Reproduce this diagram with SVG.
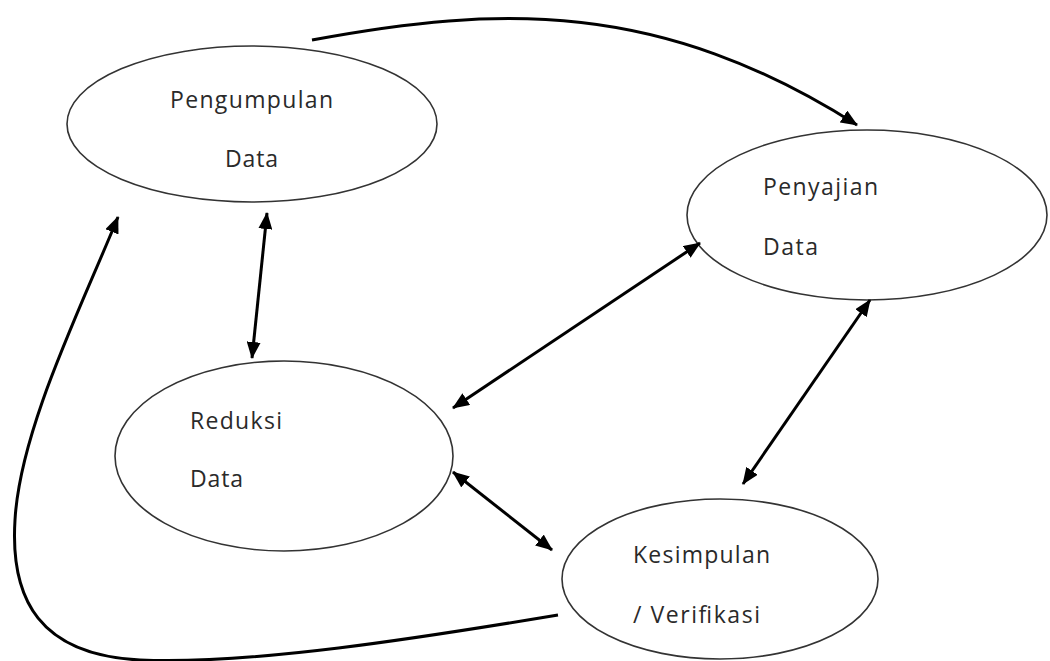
<svg xmlns="http://www.w3.org/2000/svg" width="1050" height="661" viewBox="0 0 1050 661">
<style>
.node ellipse{fill:#fff;stroke:#333;stroke-width:1.6}
.node text{font-family:"Open Sans","Liberation Sans",sans-serif;font-size:23px;fill:#2a2a2a}
.conn path,.conn line{fill:none;stroke:#000;stroke-width:3}
</style>
<defs>
<marker id="ah" markerUnits="userSpaceOnUse" markerWidth="18" markerHeight="14" refX="16" refY="7" orient="auto-start-reverse" viewBox="0 0 18 14">
<path d="M0,0 L17,7 L0,14 Z" fill="#000"/>
</marker>
</defs>
<rect width="1050" height="661" fill="#fff"/>
<g id="n-pengumpulan" class="node">
<ellipse cx="252" cy="124" rx="185" ry="78"/>
<text x="170" y="108" textLength="163" lengthAdjust="spacing">Pengumpulan</text>
<text x="225" y="167" textLength="53" lengthAdjust="spacing">Data</text>
</g>
<g id="n-penyajian" class="node">
<ellipse cx="867" cy="215" rx="180" ry="85"/>
<text x="763" y="195" textLength="115" lengthAdjust="spacing">Penyajian</text>
<text x="763" y="255" textLength="55" lengthAdjust="spacing">Data</text>
</g>
<g id="n-reduksi" class="node">
<ellipse cx="284" cy="456" rx="169" ry="95"/>
<text x="190" y="429" textLength="92" lengthAdjust="spacing">Reduksi</text>
<text x="190" y="487" textLength="53" lengthAdjust="spacing">Data</text>
</g>
<g id="n-kesimpulan" class="node">
<ellipse cx="720" cy="579" rx="158" ry="80"/>
<text x="633" y="563" textLength="137" lengthAdjust="spacing">Kesimpulan</text>
<text x="633" y="623" textLength="127" lengthAdjust="spacing">/ Verifikasi</text>
</g>
<g id="connectors" class="conn">
<path d="M312,40 C500,5 660,0 857,125" marker-end="url(#ah)"/>
<line x1="267" y1="213" x2="252" y2="358" marker-start="url(#ah)" marker-end="url(#ah)"/>
<line x1="700" y1="243" x2="453" y2="408" marker-start="url(#ah)" marker-end="url(#ah)"/>
<line x1="453" y1="472" x2="552" y2="550" marker-start="url(#ah)" marker-end="url(#ah)"/>
<line x1="870" y1="300" x2="743" y2="484" marker-start="url(#ah)" marker-end="url(#ah)"/>
<path d="M558,615 C420,638 250,665 140,660 C40,655 10,600 15,520 C20,430 80,310 118,217" marker-end="url(#ah)"/>
</g>
</svg>
